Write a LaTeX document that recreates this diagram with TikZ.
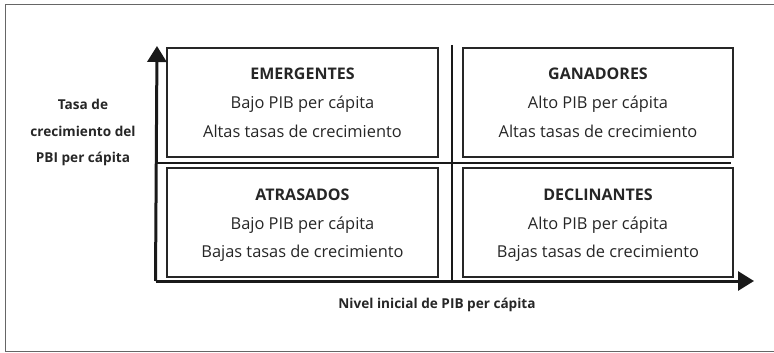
\documentclass[tikz,border=0pt]{standalone}
\usepackage{fontspec}
\setmainfont{Open Sans}
\usetikzlibrary{arrows.meta}
\begin{document}
\begin{tikzpicture}[x=1pt,y=-1pt,
  quad/.style={draw=black!85,line width=2pt},
  divider/.style={draw=black!90,line width=1.3pt},
  axis/.style={draw=black!90,line width=3pt,-{Triangle[length=16pt,width=19pt]}},
  qtext/.style={anchor=base,inner sep=0pt,font=\fontsize{16.4}{20}\selectfont,text=black!85},
  qtitle/.style={qtext,font=\fontsize{16}{20}\selectfont\bfseries},
  lbl/.style={anchor=base,inner sep=0pt,font=\fontsize{13.6}{16}\selectfont\bfseries,text=black!85}]
\useasboundingbox (0,0) rectangle (774,353);
\draw[black!60,line width=1pt] (5,5) -- (774,5);
\draw[black!60,line width=1pt] (5,5) -- (5,351) -- (774,351);
% boxes
\draw[quad] (167,48) rectangle (438,157);
\draw[quad] (463,48) rectangle (733,157);
\draw[quad] (167,168) rectangle (438,277);
\draw[quad] (463,168) rectangle (733,277);
% dividers
\coordinate (vtop) at (452,45);
\coordinate (vbot) at (452,280);
\coordinate (hl) at (157,163);
\coordinate (hr) at (731,163);
\draw[divider] (vtop) -- (vbot);
\draw[divider] (hl) -- (hr);
% axes
\coordinate (o) at (157,281);
\coordinate (ytip) at (157,46);
\coordinate (xtip) at (754,281);
\draw[axis] ([xshift=-1.5pt]o) -- (ytip);
\draw[axis] ([xshift=-1.5pt]o) -- (xtip);
% texts
\node[qtitle] (e1) at (302.5,80) {EMERGENTES};
\node[qtext] (e2) at (302.5,109) {Bajo PIB per cápita};
\node[qtext] (e3) at (302.5,137) {Altas tasas de crecimiento};
\node[qtitle] (g1) at (598,80) {GANADORES};
\node[qtext] (g2) at (598,109) {Alto PIB per cápita};
\node[qtext] (g3) at (598,137) {Altas tasas de crecimiento};
\node[qtitle] (a1) at (302.5,200) {ATRASADOS};
\node[qtext] (a2) at (302.5,229) {Bajo PIB per cápita};
\node[qtext] (a3) at (302.5,257) {Bajas tasas de crecimiento};
\node[qtitle] (d1) at (598,200) {DECLINANTES};
\node[qtext] (d2) at (598,229) {Alto PIB per cápita};
\node[qtext] (d3) at (598,257) {Bajas tasas de crecimiento};
\node[lbl] (y1) at (83,110) {Tasa de};
\node[lbl] (y2) at (83,136) {crecimiento del};
\node[lbl] (y3) at (83,162) {PBI per cápita};
\node[lbl] (xlab) at (437,308) {Nivel inicial de PIB per cápita};
\end{tikzpicture}
\end{document}
